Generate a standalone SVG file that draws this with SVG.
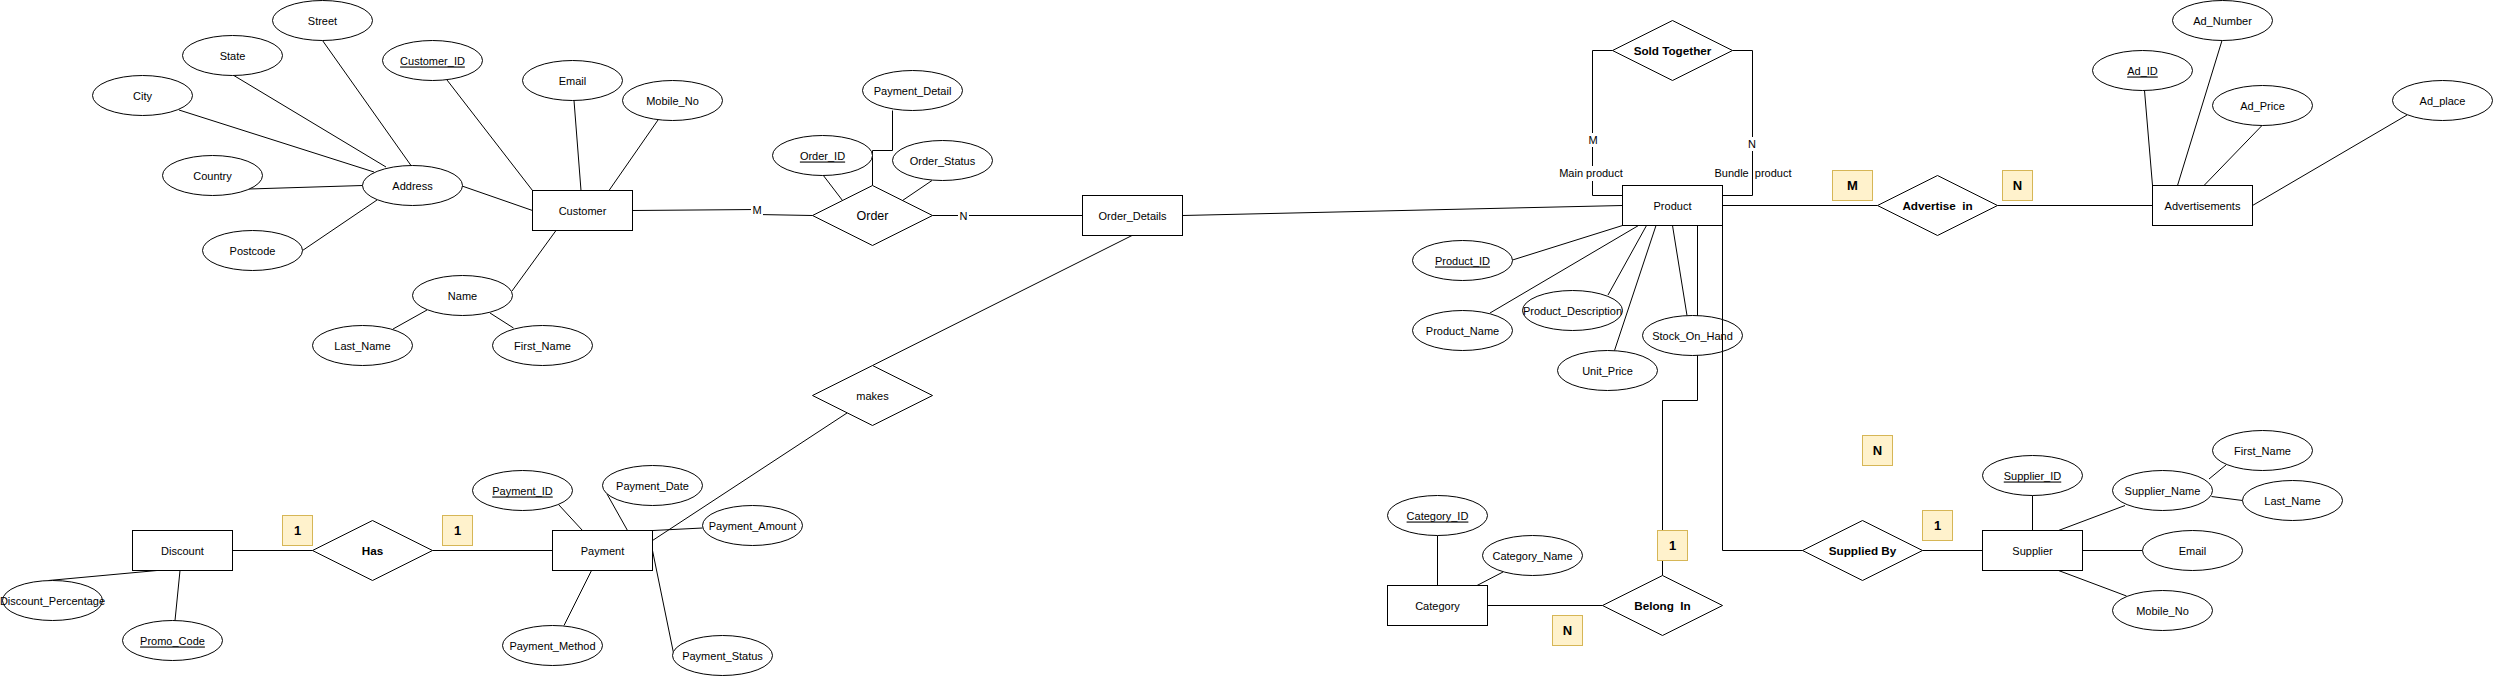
<svg xmlns="http://www.w3.org/2000/svg" width="2493" height="677" viewBox="0 0 2493 677">
<style>
.bg{fill:#ffffff}
.e{fill:#ffffff;stroke:#000000;stroke-width:1}
.r{fill:#ffffff;stroke:#000000;stroke-width:1}
.d{fill:#ffffff;stroke:#000000;stroke-width:1}
.y{fill:#fff2cc;stroke:#d6b656;stroke-width:1}
.c{fill:none;stroke:#000000;stroke-width:1}
.lb{fill:#ffffff;stroke:none}
text{font-family:"Liberation Sans",Arial,Helvetica,sans-serif;fill:#000000;text-anchor:middle;dominant-baseline:central}
.t{font-size:11px}
.o{font-size:12.5px}
.b{font-size:11.7px;font-weight:bold;white-space:pre}
.yb{font-size:13px;font-weight:bold}
.el{font-size:11px;white-space:pre}
.u{text-decoration:underline}
</style>
<rect class="bg" x="0" y="0" width="2493" height="677"/>
<g id="connectors">
<line class="c" x1="322.5" y1="40.5" x2="411" y2="165.5"/>
<line class="c" x1="233" y1="75" x2="386" y2="167"/>
<line class="c" x1="179" y1="110" x2="374" y2="172"/>
<line class="c" x1="249" y1="189" x2="362.5" y2="185.5"/>
<line class="c" x1="302.5" y1="250.5" x2="377" y2="200"/>
<line class="c" x1="447" y1="80" x2="532.5" y2="190.5"/>
<line class="c" x1="574" y1="100.5" x2="581" y2="190.5"/>
<line class="c" x1="658" y1="120" x2="609" y2="190.5"/>
<line class="c" x1="462" y1="186" x2="532.5" y2="210.5"/>
<line class="c" x1="556" y1="230.5" x2="512" y2="291"/>
<line class="c" x1="427" y1="310" x2="393" y2="329"/>
<line class="c" x1="490" y1="313" x2="513.5" y2="328"/>
<polyline class="c" points="632.5,210.5 757,209.5 757,214.5 812.5,215.5"/>
<polyline class="c" points="892.5,110.5 892.5,150.5 872.5,150.5 872.5,185.5"/>
<line class="c" x1="823" y1="175" x2="842.5" y2="200.5"/>
<line class="c" x1="932" y1="180.5" x2="902.5" y2="200.5"/>
<line class="c" x1="932.5" y1="215.5" x2="1082.5" y2="215.5"/>
<line class="c" x1="1182.5" y1="215.5" x2="1622.5" y2="205.5"/>
<line class="c" x1="1132" y1="235.5" x2="872.5" y2="365.5"/>
<line class="c" x1="847" y1="413" x2="652.5" y2="540.5"/>
<line class="c" x1="558.5" y1="504.5" x2="582.5" y2="530.5"/>
<line class="c" x1="607" y1="494" x2="627.5" y2="530.5"/>
<line class="c" x1="702.5" y1="528" x2="653" y2="530.5"/>
<line class="c" x1="652.5" y1="550.5" x2="673.5" y2="653"/>
<line class="c" x1="591.5" y1="570.5" x2="564" y2="625.5"/>
<line class="c" x1="432.5" y1="550.5" x2="552.5" y2="550.5"/>
<line class="c" x1="232.5" y1="550.5" x2="312.5" y2="550.5"/>
<line class="c" x1="157" y1="570.5" x2="48.5" y2="580.5"/>
<line class="c" x1="180" y1="570.5" x2="175" y2="620.5"/>
<polyline class="c" points="1622.5,195.5 1592.5,195.5 1592.5,50.5 1612.5,50.5"/>
<polyline class="c" points="1722.5,195.5 1752.5,195.5 1752.5,50.5 1732.5,50.5"/>
<line class="c" x1="1722.5" y1="205.5" x2="1877.5" y2="205.5"/>
<line class="c" x1="1997.5" y1="205.5" x2="2152.5" y2="205.5"/>
<line class="c" x1="2144.5" y1="90.5" x2="2152.5" y2="185.5"/>
<line class="c" x1="2222" y1="40.5" x2="2177.5" y2="185.5"/>
<line class="c" x1="2262" y1="125.5" x2="2204" y2="185.5"/>
<line class="c" x1="2407" y1="115" x2="2252.5" y2="205.5"/>
<line class="c" x1="1512.5" y1="260" x2="1622.5" y2="225.5"/>
<line class="c" x1="1490" y1="313" x2="1638.5" y2="225.5"/>
<line class="c" x1="1608" y1="295" x2="1646.5" y2="225.5"/>
<line class="c" x1="1614.5" y1="350.5" x2="1656" y2="225.5"/>
<line class="c" x1="1687" y1="315.5" x2="1672.5" y2="225.5"/>
<polyline class="c" points="1697.5,225.5 1697.5,400.5 1662.5,400.5 1662.5,575.5"/>
<line class="c" x1="1487.5" y1="605.5" x2="1602.5" y2="605.5"/>
<line class="c" x1="1437.5" y1="535.5" x2="1437.5" y2="585.5"/>
<line class="c" x1="1503" y1="572" x2="1477" y2="585.5"/>
<line class="c" x1="1922.5" y1="550.5" x2="1982.5" y2="550.5"/>
<line class="c" x1="2032.5" y1="495.5" x2="2032.5" y2="530.5"/>
<line class="c" x1="2125" y1="505.5" x2="2058.5" y2="530.5"/>
<line class="c" x1="2226" y1="465" x2="2209" y2="479"/>
<line class="c" x1="2242.5" y1="500.5" x2="2211.5" y2="496.5"/>
<line class="c" x1="2082.5" y1="550.5" x2="2142.5" y2="550.5"/>
<line class="c" x1="2058.5" y1="570.5" x2="2126.5" y2="596"/>
<rect class="lb" x="751" y="203" width="12" height="14"/>
<text class="el" x="757" y="210">M</text>
<rect class="lb" x="958" y="209" width="11" height="14"/>
<text class="el" x="963.5" y="216">N</text>
<rect class="lb" x="1587" y="133" width="12" height="14"/>
<text class="el" x="1593" y="140">M</text>
<rect class="lb" x="1747" y="137" width="11" height="14"/>
<text class="el" x="1752" y="144">N</text>
<rect class="lb" x="1559" y="166" width="65" height="15"/>
<text class="el" x="1591" y="173">Main product</text>
<text class="el" x="1753" y="173">Bundle  product</text>
</g>
<g id="Street"><ellipse class="e" cx="322.5" cy="20.5" rx="50" ry="20"/><text class="t" x="322.5" y="20.5">Street</text></g>
<g id="State"><ellipse class="e" cx="232.5" cy="55.5" rx="50" ry="20"/><text class="t" x="232.5" y="55.5">State</text></g>
<g id="Customer_ID"><ellipse class="e" cx="432.5" cy="60.5" rx="50" ry="20"/><text class="t u" x="432.5" y="60.5">Customer_ID</text></g>
<g id="City"><ellipse class="e" cx="142.5" cy="95.5" rx="50" ry="20"/><text class="t" x="142.5" y="95.5">City</text></g>
<g id="Customer_Email"><ellipse class="e" cx="572.5" cy="80.5" rx="50" ry="20"/><text class="t" x="572.5" y="80.5">Email</text></g>
<g id="Customer_Mobile_No"><ellipse class="e" cx="672.5" cy="100.5" rx="50" ry="20"/><text class="t" x="672.5" y="100.5">Mobile_No</text></g>
<g id="Country"><ellipse class="e" cx="212.5" cy="175.5" rx="50" ry="20"/><text class="t" x="212.5" y="175.5">Country</text></g>
<g id="Address"><ellipse class="e" cx="412.5" cy="185.5" rx="50" ry="20"/><text class="t" x="412.5" y="185.5">Address</text></g>
<g id="Postcode"><ellipse class="e" cx="252.5" cy="250.5" rx="50" ry="20"/><text class="t" x="252.5" y="250.5">Postcode</text></g>
<g id="Customer"><rect class="r" x="532.5" y="190.5" width="100" height="40"/><text class="t" x="582.5" y="210.5">Customer</text></g>
<g id="Name"><ellipse class="e" cx="462.5" cy="295.5" rx="50" ry="20"/><text class="t" x="462.5" y="295.5">Name</text></g>
<g id="Last_Name"><ellipse class="e" cx="362.5" cy="345.5" rx="50" ry="20"/><text class="t" x="362.5" y="345.5">Last_Name</text></g>
<g id="First_Name"><ellipse class="e" cx="542.5" cy="345.5" rx="50" ry="20"/><text class="t" x="542.5" y="345.5">First_Name</text></g>
<g id="Payment_Detail"><ellipse class="e" cx="912.5" cy="90.5" rx="50" ry="20"/><text class="t" x="912.5" y="90.5">Payment_Detail</text></g>
<g id="Order_ID"><ellipse class="e" cx="822.5" cy="155.5" rx="50" ry="20"/><text class="t u" x="822.5" y="155.5">Order_ID</text></g>
<g id="Order_Status"><ellipse class="e" cx="942.5" cy="160.5" rx="50" ry="20"/><text class="t" x="942.5" y="160.5">Order_Status</text></g>
<g id="Order"><polygon class="d" points="812.5,215.5 872.5,185.5 932.5,215.5 872.5,245.5"/><text class="o" x="872.5" y="215.5">Order</text></g>
<g id="Order_Details"><rect class="r" x="1082.5" y="195.5" width="100" height="40"/><text class="t" x="1132.5" y="215.5">Order_Details</text></g>
<g id="makes"><polygon class="d" points="812.5,395.5 872.5,365.5 932.5,395.5 872.5,425.5"/><text class="t" x="872.5" y="395.5">makes</text></g>
<g id="Payment_ID"><ellipse class="e" cx="522.5" cy="490.5" rx="50" ry="20"/><text class="t u" x="522.5" y="490.5">Payment_ID</text></g>
<g id="Payment_Date"><ellipse class="e" cx="652.5" cy="485.5" rx="50" ry="20"/><text class="t" x="652.5" y="485.5">Payment_Date</text></g>
<g id="Payment_Amount"><ellipse class="e" cx="752.5" cy="525.5" rx="50" ry="20"/><text class="t" x="752.5" y="525.5">Payment_Amount</text></g>
<g id="Payment"><rect class="r" x="552.5" y="530.5" width="100" height="40"/><text class="t" x="602.5" y="550.5">Payment</text></g>
<g id="Payment_Method"><ellipse class="e" cx="552.5" cy="645.5" rx="50" ry="20"/><text class="t" x="552.5" y="645.5">Payment_Method</text></g>
<g id="Payment_Status"><ellipse class="e" cx="722.5" cy="655.5" rx="50" ry="20"/><text class="t" x="722.5" y="655.5">Payment_Status</text></g>
<g id="Has"><polygon class="d" points="312.5,550.5 372.5,520.5 432.5,550.5 372.5,580.5"/><text class="b" x="372.5" y="550.5">Has</text></g>
<g id="card_has_left"><rect class="y" x="282.5" y="515.5" width="30" height="30"/><text class="yb" x="297.5" y="530.5">1</text></g>
<g id="card_has_right"><rect class="y" x="442.5" y="515.5" width="30" height="30"/><text class="yb" x="457.5" y="530.5">1</text></g>
<g id="Discount"><rect class="r" x="132.5" y="530.5" width="100" height="40"/><text class="t" x="182.5" y="550.5">Discount</text></g>
<g id="Discount_Percentage"><ellipse class="e" cx="52.5" cy="600.5" rx="50" ry="20"/><text class="t" x="52.5" y="600.5">Discount_Percentage</text></g>
<g id="Promo_Code"><ellipse class="e" cx="172.5" cy="640.5" rx="50" ry="20"/><text class="t u" x="172.5" y="640.5">Promo_Code</text></g>
<g id="Sold_Together"><polygon class="d" points="1612.5,50.5 1672.5,20.5 1732.5,50.5 1672.5,80.5"/><text class="b" x="1672.5" y="50.5">Sold Together</text></g>
<g id="Product"><rect class="r" x="1622.5" y="185.5" width="100" height="40"/><text class="t" x="1672.5" y="205.5">Product</text></g>
<g id="Product_ID"><ellipse class="e" cx="1462.5" cy="260.5" rx="50" ry="20"/><text class="t u" x="1462.5" y="260.5">Product_ID</text></g>
<g id="Product_Name"><ellipse class="e" cx="1462.5" cy="330.5" rx="50" ry="20"/><text class="t" x="1462.5" y="330.5">Product_Name</text></g>
<g id="Product_Description"><ellipse class="e" cx="1572.5" cy="310.5" rx="50" ry="20"/><text class="t" x="1572.5" y="310.5">Product_Description</text></g>
<g id="Unit_Price"><ellipse class="e" cx="1607.5" cy="370.5" rx="50" ry="20"/><text class="t" x="1607.5" y="370.5">Unit_Price</text></g>
<g id="Stock_On_Hand"><ellipse class="e" cx="1692.5" cy="335.5" rx="50" ry="20"/><text class="t" x="1692.5" y="335.5">Stock_On_Hand</text></g>
<g id="Advertise_in"><polygon class="d" points="1877.5,205.5 1937.5,175.5 1997.5,205.5 1937.5,235.5"/><text class="b" x="1937.5" y="205.5">Advertise  in</text></g>
<g id="card_adv_M"><rect class="y" x="1832.5" y="170.5" width="40" height="30"/><text class="yb" x="1852.5" y="185.5">M</text></g>
<g id="card_adv_N"><rect class="y" x="2002.5" y="170.5" width="30" height="30"/><text class="yb" x="2017.5" y="185.5">N</text></g>
<g id="Advertisements"><rect class="r" x="2152.5" y="185.5" width="100" height="40"/><text class="t" x="2202.5" y="205.5">Advertisements</text></g>
<g id="Ad_ID"><ellipse class="e" cx="2142.5" cy="70.5" rx="50" ry="20"/><text class="t u" x="2142.5" y="70.5">Ad_ID</text></g>
<g id="Ad_Number"><ellipse class="e" cx="2222.5" cy="20.5" rx="50" ry="20"/><text class="t" x="2222.5" y="20.5">Ad_Number</text></g>
<g id="Ad_Price"><ellipse class="e" cx="2262.5" cy="105.5" rx="50" ry="20"/><text class="t" x="2262.5" y="105.5">Ad_Price</text></g>
<g id="Ad_place"><ellipse class="e" cx="2442.5" cy="100.5" rx="50" ry="20"/><text class="t" x="2442.5" y="100.5">Ad_place</text></g>
<g id="Category_ID"><ellipse class="e" cx="1437.5" cy="515.5" rx="50" ry="20"/><text class="t u" x="1437.5" y="515.5">Category_ID</text></g>
<g id="Category_Name"><ellipse class="e" cx="1532.5" cy="555.5" rx="50" ry="20"/><text class="t" x="1532.5" y="555.5">Category_Name</text></g>
<g id="Category"><rect class="r" x="1387.5" y="585.5" width="100" height="40"/><text class="t" x="1437.5" y="605.5">Category</text></g>
<g id="Belong_In"><polygon class="d" points="1602.5,605.5 1662.5,575.5 1722.5,605.5 1662.5,635.5"/><text class="b" x="1662.5" y="605.5">Belong  In</text></g>
<g id="card_belong_1"><rect class="y" x="1657.5" y="530.5" width="30" height="30"/><text class="yb" x="1672.5" y="545.5">1</text></g>
<g id="card_category_N"><rect class="y" x="1552.5" y="615.5" width="30" height="30"/><text class="yb" x="1567.5" y="630.5">N</text></g>
<g id="card_supplied_N"><rect class="y" x="1862.5" y="435.5" width="30" height="30"/><text class="yb" x="1877.5" y="450.5">N</text></g>
<g id="Supplied_By"><polygon class="d" points="1802.5,550.5 1862.5,520.5 1922.5,550.5 1862.5,580.5"/><text class="b" x="1862.5" y="550.5">Supplied By</text></g>
<g id="card_supplier_1"><rect class="y" x="1922.5" y="510.5" width="30" height="30"/><text class="yb" x="1937.5" y="525.5">1</text></g>
<g id="Supplier"><rect class="r" x="1982.5" y="530.5" width="100" height="40"/><text class="t" x="2032.5" y="550.5">Supplier</text></g>
<g id="Supplier_ID"><ellipse class="e" cx="2032.5" cy="475.5" rx="50" ry="20"/><text class="t u" x="2032.5" y="475.5">Supplier_ID</text></g>
<g id="Supplier_Name"><ellipse class="e" cx="2162.5" cy="490.5" rx="50" ry="20"/><text class="t" x="2162.5" y="490.5">Supplier_Name</text></g>
<g id="Supplier_First_Name"><ellipse class="e" cx="2262.5" cy="450.5" rx="50" ry="20"/><text class="t" x="2262.5" y="450.5">First_Name</text></g>
<g id="Supplier_Last_Name"><ellipse class="e" cx="2292.5" cy="500.5" rx="50" ry="20"/><text class="t" x="2292.5" y="500.5">Last_Name</text></g>
<g id="Supplier_Email"><ellipse class="e" cx="2192.5" cy="550.5" rx="50" ry="20"/><text class="t" x="2192.5" y="550.5">Email</text></g>
<g id="Supplier_Mobile_No"><ellipse class="e" cx="2162.5" cy="610.5" rx="50" ry="20"/><text class="t" x="2162.5" y="610.5">Mobile_No</text></g>
<g id="connectors-over">
<polyline class="c" points="1722.5,225.5 1722.5,550.5 1802.5,550.5"/>
</g>
</svg>
